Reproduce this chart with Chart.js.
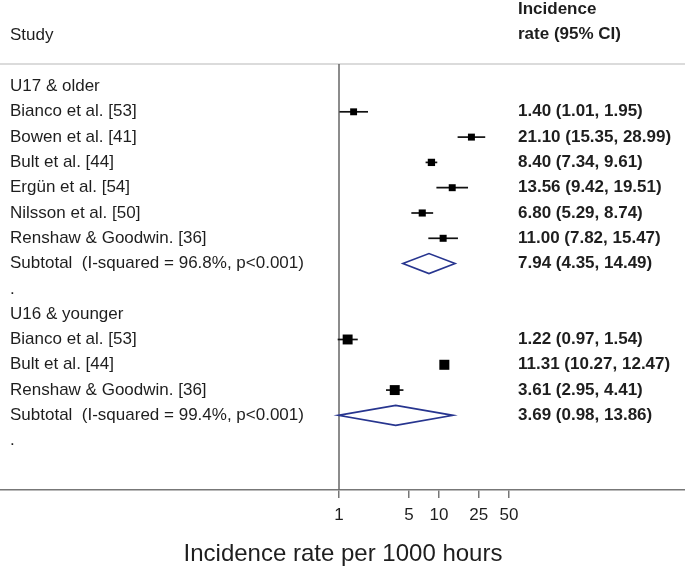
<!DOCTYPE html>
<html><head><meta charset="utf-8">
<script src="https://cdn.jsdelivr.net/npm/chart.js@4.4.1/dist/chart.umd.min.js"></script>
<style>html,body{margin:0;padding:0;background:#fff}#wrap{width:685px;height:572px;position:relative}</style>
</head><body><div id="wrap"><canvas id="c"></canvas></div>
<script>
// ---------- data ----------
const groupNames = ["U17 & older", "U16 & younger"];

const u17Studies = ["Bianco et al. [53]", "Bowen et al. [41]", "Bult et al. [44]", "Ergün et al. [54]", "Nilsson et al. [50]", "Renshaw & Goodwin. [36]"];
const u17Rate  = [1.40, 21.10, 8.40, 13.56, 6.80, 11.00];
const u17Lower = [1.01, 15.35, 7.34, 9.42, 5.29, 7.82];
const u17Upper = [1.95, 28.99, 9.61, 19.51, 8.74, 15.47];
const u17Weight = [16.0, 16.3, 17.9, 16.3, 17.0, 16.5];
const u17SubtotalLabel = "Subtotal  (I-squared = 96.8%, p<0.001)";
const u17Subtotal = [7.94, 4.35, 14.49];

const u16Studies = ["Bianco et al. [53]", "Bult et al. [44]", "Renshaw & Goodwin. [36]"];
const u16Rate  = [1.22, 11.31, 3.61];
const u16Lower = [0.97, 10.27, 2.95];
const u16Upper = [1.54, 12.47, 4.41];
const u16Weight = [33.1, 33.7, 33.2];
const u16SubtotalLabel = "Subtotal  (I-squared = 99.4%, p<0.001)";
const u16Subtotal = [3.69, 0.98, 13.86];

const xTicks = [1, 5, 10, 25, 50];
const nullValue = 1;
const xTitle = "Incidence rate per 1000 hours";
const leftHeader = "Study";
const rightHeader = ["Incidence", "rate (95% CI)"];

// ---------- build rows ----------
const rows = [];
function addGroup(name, studies, rate, lo, hi, w, subLabel, sub) {
  rows.push({type: 'group', label: name});
  studies.forEach((s, i) => rows.push({type: 'study', label: s, rate: rate[i], lo: lo[i], hi: hi[i], w: w[i]}));
  rows.push({type: 'sub', label: subLabel, rate: sub[0], lo: sub[1], hi: sub[2]});
  rows.push({type: 'blank', label: '.'});
}
addGroup(groupNames[0], u17Studies, u17Rate, u17Lower, u17Upper, u17Weight, u17SubtotalLabel, u17Subtotal);
addGroup(groupNames[1], u16Studies, u16Rate, u16Lower, u16Upper, u16Weight, u16SubtotalLabel, u16Subtotal);
rows.forEach((r, i) => r.idx = i);

const points = rows.filter(r => r.type === 'study').map(r => ({x: r.rate, y: r.idx, w: r.w}));

const FONT = '"Liberation Sans", Arial, Helvetica, sans-serif';
const fmt = r => r.rate.toFixed(2) + ' (' + r.lo.toFixed(2) + ', ' + r.hi.toFixed(2) + ')';

const forest = {
  id: 'forest',
  beforeDatasetsDraw(chart) {
    const ctx = chart.ctx, xs = chart.scales.x, ys = chart.scales.y, ca = chart.chartArea;
    ctx.save();
    // top separator
    ctx.strokeStyle = '#cfcfcf'; ctx.lineWidth = 1.5;
    ctx.beginPath(); ctx.moveTo(0, ca.top); ctx.lineTo(chart.width, ca.top); ctx.stroke();
    // null line
    const x1 = xs.getPixelForValue(nullValue);
    ctx.strokeStyle = '#666'; ctx.lineWidth = 1.5;
    ctx.beginPath(); ctx.moveTo(x1, ca.top); ctx.lineTo(x1, ca.bottom); ctx.stroke();
    // CI lines
    ctx.strokeStyle = '#111'; ctx.lineWidth = 1.7;
    rows.filter(r => r.type === 'study').forEach(r => {
      const y = ys.getPixelForValue(r.idx);
      ctx.beginPath(); ctx.moveTo(xs.getPixelForValue(r.lo), y); ctx.lineTo(xs.getPixelForValue(r.hi), y); ctx.stroke();
    });
    // diamonds
    ctx.strokeStyle = '#27358f'; ctx.lineWidth = 1.6;
    rows.filter(r => r.type === 'sub').forEach(r => {
      const y = ys.getPixelForValue(r.idx);
      const xl = xs.getPixelForValue(r.lo), xm = xs.getPixelForValue(r.rate), xh = xs.getPixelForValue(r.hi);
      ctx.beginPath(); ctx.moveTo(xl, y); ctx.lineTo(xm, y - 10); ctx.lineTo(xh, y); ctx.lineTo(xm, y + 10); ctx.closePath(); ctx.stroke();
    });
    // texts
    ctx.fillStyle = '#1e1e1e'; ctx.textBaseline = 'middle'; ctx.textAlign = 'left';
    ctx.font = '17px ' + FONT;
    ctx.fillText(leftHeader, 10, 35);
    rows.forEach(r => {
      const y = ys.getPixelForValue(r.idx);
      ctx.font = '17px ' + FONT;
      ctx.fillText(r.label, 10, y);
      if (r.type === 'study' || r.type === 'sub') {
        ctx.font = 'bold 17px ' + FONT;
        ctx.fillText(fmt(r), 518, y);
      }
    });
    ctx.font = 'bold 17px ' + FONT;
    ctx.fillText(rightHeader[0], 518, 9);
    ctx.fillText(rightHeader[1], 518, 34);
    // axis title
    ctx.font = '24px ' + FONT; ctx.textAlign = 'center';
    ctx.fillText(xTitle, 343, ca.bottom + 64);
    ctx.restore();
  }
};

const pxLeft = 339, pxPerDecade = 100, W = 685;
new Chart(document.getElementById('c'), {
  type: 'scatter',
  data: {datasets: [{
    data: points,
    pointStyle: 'rect',
    backgroundColor: '#000',
    borderWidth: 0,
    pointRadius: c => 1.22 * Math.sqrt(c.raw.w),
    pointHoverRadius: c => 1.22 * Math.sqrt(c.raw.w)
  }]},
  options: {
    responsive: true, maintainAspectRatio: false, animation: false,
    layout: {autoPadding: false, padding: {top: 64, left: 0, right: 0, bottom: 0}},
    plugins: {legend: {display: false}, tooltip: {enabled: false}},
    scales: {
      x: {
        type: 'logarithmic', bounds: 'data',
        min: Math.pow(10, -pxLeft / pxPerDecade), max: Math.pow(10, (W - pxLeft) / pxPerDecade),
        afterBuildTicks: s => { s.ticks = xTicks.map(v => ({value: v})); },
        afterFit: s => { s.height = 82; },
        ticks: {callback: v => String(v), autoSkip: false, maxRotation: 0, padding: 7, color: '#1e1e1e', font: {family: FONT, size: 17}},
        grid: {drawOnChartArea: false, drawTicks: true, tickLength: 8, color: '#777', lineWidth: 1.5},
        border: {display: true, color: '#777', width: 1.5}
      },
      y: {type: 'linear', display: false, reverse: true, min: -0.89, max: 15.95}
    }
  },
  plugins: [forest]
});
</script>
</body></html>
